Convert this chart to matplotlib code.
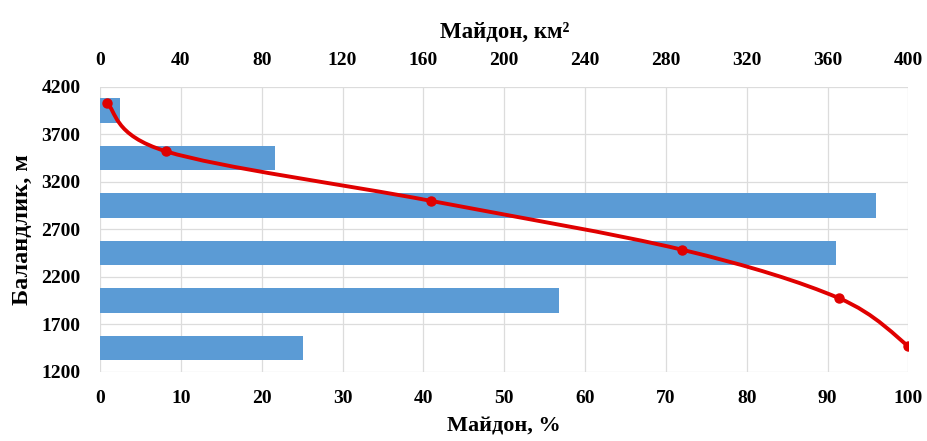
import numpy as np
import matplotlib
matplotlib.use("Agg")
import matplotlib.pyplot as plt
from matplotlib.path import Path
from matplotlib.patches import PathPatch

plt.rcParams['font.family'] = ['Liberation Serif', 'DejaVu Serif']
plt.rcParams['font.weight'] = 'bold'

# Высотные пояса, м
band_low = [1200, 1700, 2200, 2700, 3200, 3700]
band_high = [1700, 2200, 2700, 3200, 3700, 4200]
# Площадь пояса, км2
area_km2 = [100.6, 226.9, 364.2, 383.7, 86.3, 9.6]

# Гипсографическая кривая: площадь (%), высота (м)
curve_pct = [0.8, 8.2, 40.9, 72.0, 91.4, 100.0]
curve_h = [4035, 3520, 3000, 2485, 1975, 1470]

y_ticks = [1200, 1700, 2200, 2700, 3200, 3700, 4200]
top_ticks = [0, 40, 80, 120, 160, 200, 240, 280, 320, 360, 400]
bottom_ticks = [0, 10, 20, 30, 40, 50, 60, 70, 80, 90, 100]

fig = plt.figure(figsize=(9.27, 4.41), dpi=100)
ax = fig.add_axes([0.108, 0.157, 0.872, 0.646])
ax2 = ax.twiny()

# Столбцы по верхней оси (км2)
centers = [(lo + hi) / 2 for lo, hi in zip(band_low, band_high)]
ax.barh(centers, area_km2, height=260, color='#5B9BD5', zorder=2)
ax.set_xlim(0, 400)
ax.set_ylim(1200, 4200)
ax.set_yticks(y_ticks)
ax.set_xticks(top_ticks)
ax.xaxis.tick_top()
ax.xaxis.set_label_position('top')
ax.set_xlabel('Майдон, км²', fontsize=16.5, fontweight='bold', labelpad=10)
ax.set_ylabel('Баландлик, м', fontsize=17.5, fontweight='bold', labelpad=6)
ax.tick_params(axis='x', length=0, labelsize=14, pad=13)
ax.tick_params(axis='y', length=0, labelsize=14, pad=14)
ax.grid(True, color='#dcdcdc', linewidth=0.9, zorder=0)
ax.set_axisbelow(True)
for s in ax.spines.values():
    s.set_visible(False)

# Линия по нижней оси (%)
ax2.set_xlim(0, 100)
ax2.set_xticks(bottom_ticks)
ax2.xaxis.tick_bottom()
ax2.xaxis.set_label_position('bottom')
ax2.set_xlabel('Майдон, %', fontsize=16, fontweight='bold', labelpad=7)
ax2.tick_params(axis='x', length=0, labelsize=14, pad=13)
for s in ax2.spines.values():
    s.set_visible(False)

# сглаженная линия (как в Excel)
pts = np.column_stack([curve_pct, curve_h]).astype(float)
verts = [pts[0]]
codes = [Path.MOVETO]
n = len(pts)
for i in range(n - 1):
    p0 = pts[i - 1] if i > 0 else pts[i]
    p1 = pts[i]
    p2 = pts[i + 1]
    p3 = pts[i + 2] if i + 2 < n else pts[i + 1]
    c1 = p1 + (p2 - p0) / 6
    c2 = p2 - (p3 - p1) / 6
    verts += [c1, c2, p2]
    codes += [Path.CURVE4] * 3
ax2.add_patch(PathPatch(Path(verts, codes), facecolor='none',
                        edgecolor='#E00000', linewidth=2.8, zorder=3))
ax2.plot(curve_pct, curve_h, 'o', color='#E00000', markersize=6.5, zorder=4)

fig.savefig('out.png', dpi=100)
